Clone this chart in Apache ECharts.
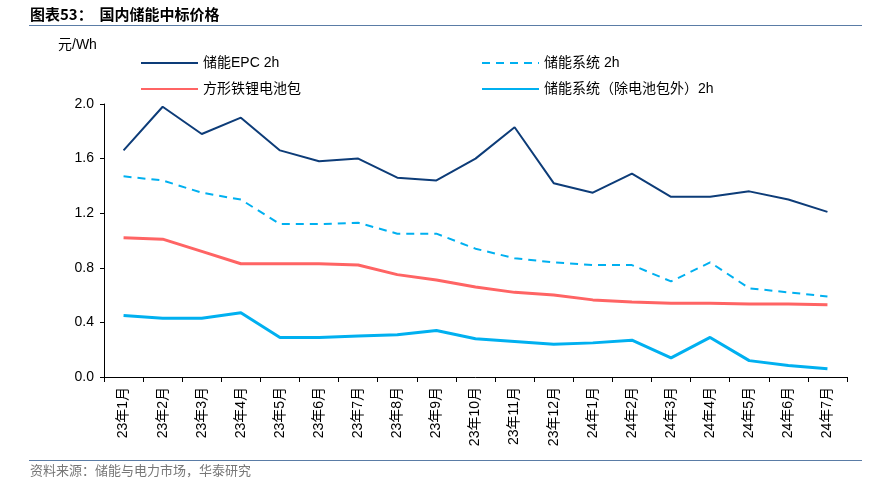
<!DOCTYPE html>
<html><head><meta charset="utf-8">
<script src="https://cdn.jsdelivr.net/npm/echarts@6/dist/echarts.min.js"></script>
<style>html,body{margin:0;padding:0;background:#fff}#c{width:886px;height:493px}</style>
</head><body><div id="c"></div>
<script>
const categories = ['23年1月','23年2月','23年3月','23年4月','23年5月','23年6月','23年7月','23年8月','23年9月','23年10月','23年11月','23年12月','24年1月','24年2月','24年3月','24年4月','24年5月','24年6月','24年7月'];
const epc2h = [1.66,1.98,1.78,1.90,1.66,1.58,1.60,1.46,1.44,1.60,1.83,1.42,1.35,1.49,1.32,1.32,1.36,1.30,1.21];
const system2h = [1.47,1.44,1.35,1.30,1.12,1.12,1.13,1.05,1.05,0.94,0.87,0.84,0.82,0.82,0.70,0.84,0.65,0.62,0.59];
const packPrice = [1.02,1.01,0.92,0.83,0.83,0.83,0.82,0.75,0.71,0.66,0.62,0.60,0.565,0.55,0.54,0.54,0.535,0.535,0.53];
const systemExPack = [0.45,0.43,0.43,0.47,0.29,0.29,0.30,0.31,0.34,0.28,0.26,0.24,0.25,0.27,0.14,0.29,0.12,0.085,0.06];
const yTicks = {min:0, max:2.0, interval:0.4};
const names = ['储能EPC 2h','方形铁锂电池包','储能系统 2h','储能系统（除电池包外）2h'];

const font = '"Liberation Sans", Arial, "Noto Sans CJK SC", sans-serif';
const chart = echarts.init(document.getElementById('c'));
const legendBase = {orient:'vertical', top:51, itemWidth:57, itemHeight:14, itemGap:12,
  itemStyle:{opacity:0},
  textStyle:{fontSize:14, color:'#000', fontFamily:font}, selectedMode:false};
chart.setOption({
  animation:false,
  textStyle:{fontFamily:font},
  graphic:[
    {type:'text', left:30, top:7, style:{text:'图表53：  国内储能中标价格', font:'bold 15px "Noto Sans CJK SC", sans-serif', fill:'#000'}},
    {type:'line', shape:{x1:29,y1:25.5,x2:862,y2:25.5}, style:{stroke:'#5a7ca6', lineWidth:1.2}},
    {type:'text', left:58, top:38, style:{text:'元/Wh', font:'14px '+font, fill:'#000'}},
    {type:'line', shape:{x1:29,y1:460.5,x2:862,y2:460.5}, style:{stroke:'#5a7ca6', lineWidth:1.2}},
    {type:'text', left:30, top:464, style:{text:'资料来源：储能与电力市场，华泰研究', font:'13px "Noto Sans CJK SC", sans-serif', fill:'#777'}}
  ],
  legend:[
    Object.assign({}, legendBase, {left:135, data:[names[0],names[1]]}),
    Object.assign({}, legendBase, {left:476, data:[names[2],names[3]]})
  ],
  grid:{left:104, right:39, top:104, bottom:116},
  xAxis:{type:'category', data:categories, boundaryGap:true,
    axisLine:{lineStyle:{color:'#000', width:1}},
    axisTick:{show:true, length:5, lineStyle:{color:'#000'}},
    axisLabel:{rotate:90, fontSize:14, color:'#000', margin:10, fontFamily:font}},
  yAxis:{type:'value', min:yTicks.min, max:yTicks.max, interval:yTicks.interval,
    axisLine:{show:true, lineStyle:{color:'#000'}},
    axisTick:{show:true, length:4, lineStyle:{color:'#000'}},
    splitLine:{show:false},
    axisLabel:{fontSize:14, color:'#000', margin:10, formatter:v=>v.toFixed(1)}},
  series:[
    {name:names[0], type:'line', data:epc2h, symbol:'none', lineStyle:{color:'#0d3c78', width:2}, itemStyle:{color:'#0d3c78'}},
    {name:names[1], type:'line', data:packPrice, symbol:'none', lineStyle:{color:'#ff6464', width:3}, itemStyle:{color:'#ff6464'}},
    {name:names[2], type:'line', data:system2h, symbol:'none', lineStyle:{color:'#00b0f0', width:2, type:[8,6]}, itemStyle:{color:'#00b0f0'}},
    {name:names[3], type:'line', data:systemExPack, symbol:'none', lineStyle:{color:'#00b0f0', width:3}, itemStyle:{color:'#00b0f0'}}
  ]
});
</script></body></html>
